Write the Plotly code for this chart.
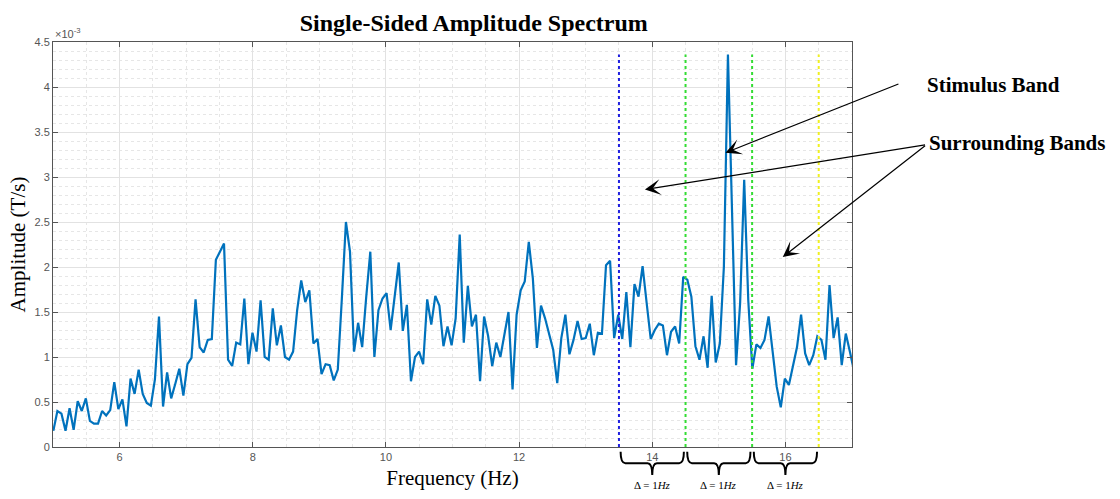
import numpy as np
import plotly.graph_objects as go

# FFT bin indices (frequency resolution 1/16.384 Hz)
bin_index = np.arange(82, 280)
freq = bin_index / 16.384

# amplitude in units of 1e-3 T/s
amp_e3 = [
    0.18, 0.40, 0.37, 0.18, 0.43, 0.19, 0.51, 0.40, 0.54, 0.29,
    0.26, 0.26, 0.40, 0.35, 0.41, 0.72, 0.42, 0.53, 0.23, 0.76,
    0.59, 0.86, 0.59, 0.49, 0.46, 0.75, 1.45, 0.45, 0.83, 0.54,
    0.70, 0.87, 0.57, 0.92, 0.99, 1.64, 1.11, 1.05, 1.19, 1.20,
    2.08, 2.17, 2.26, 0.97, 0.90, 1.16, 1.14, 1.65, 0.92, 1.27,
    1.06, 1.63, 1.00, 0.97, 1.54, 1.13, 1.35, 1.00, 0.97, 1.06,
    1.52, 1.85, 1.61, 1.74, 1.15, 1.20, 0.81, 0.92, 0.91, 0.74,
    0.86, 1.65, 2.50, 2.17, 1.06, 1.38, 1.11, 1.67, 2.17, 1.00,
    1.52, 1.65, 1.71, 1.30, 1.67, 2.05, 1.29, 1.58, 0.73, 1.00,
    1.06, 0.92, 1.64, 1.36, 1.68, 1.57, 1.12, 1.34, 1.13, 1.43,
    2.36, 1.16, 1.79, 1.34, 1.47, 0.73, 1.45, 1.23, 0.90, 1.16,
    1.00, 1.23, 1.50, 0.64, 1.47, 1.74, 1.84, 2.28, 1.87, 1.10,
    1.57, 1.43, 1.26, 1.08, 0.71, 1.21, 1.47, 1.03, 1.19, 1.40,
    1.20, 1.21, 1.37, 1.02, 1.27, 1.26, 2.02, 2.07, 1.21, 1.47,
    1.20, 1.72, 1.11, 1.81, 1.67, 2.01, 1.60, 1.20, 1.30, 1.37,
    1.35, 1.02, 1.28, 1.34, 1.15, 1.89, 1.86, 1.67, 1.12, 0.97,
    1.23, 0.88, 1.68, 0.94, 1.15, 2.00, 4.36, 2.78, 0.91, 1.60,
    2.97, 1.63, 0.87, 1.14, 1.10, 1.19, 1.45, 1.06, 0.67, 0.44,
    0.76, 0.69, 0.91, 1.11, 1.47, 1.04, 0.91, 1.02, 1.23, 1.19,
    0.97, 1.80, 1.21, 1.44, 0.91, 1.26, 1.06, 0.85,
]
amp = np.array(amp_e3) * 1e-3

band_edges = [13.5, 14.5, 15.5, 16.5]
edge_colors = ["#2020e0", "#33dd33", "#33dd33", "#f0f020"]
band_label = "Δ = 1<i>Hz</i>"

ytick_vals = [0, 0.5, 1, 1.5, 2, 2.5, 3, 3.5, 4, 4.5]
ytick_text = ["0", "0.5", "1", "1.5", "2", "2.5", "3", "3.5", "4", "4.5"]

fig = go.Figure()
fig.add_trace(go.Scatter(x=freq, y=amp, mode="lines",
                         line=dict(color="#0072BD", width=2.2),
                         showlegend=False, hoverinfo="x+y"))
top = float(np.max(amp))
for xe, c in zip(band_edges, edge_colors):
    fig.add_trace(go.Scatter(x=[xe, xe], y=[0, top], mode="lines",
                             line=dict(color=c, width=2, dash="dot"),
                             showlegend=False, hoverinfo="skip"))

# curly braces under the axis between band edges
y_top, y_mid, y_tip = -0.012, -0.040, -0.069
shapes = []
for x0, x1 in zip(band_edges[:-1], band_edges[1:]):
    e = 0.025
    r = 0.07
    xm = (x0 + x1) / 2
    a, b = x0 + e, x1 - e
    path = (f"M {a},{y_top} Q {a},{y_mid} {a + r},{y_mid} "
            f"L {xm - r},{y_mid} Q {xm},{y_mid} {xm},{y_tip} "
            f"Q {xm},{y_mid} {xm + r},{y_mid} "
            f"L {b - r},{y_mid} Q {b},{y_mid} {b},{y_top}")
    shapes.append(dict(type="path", xref="x", yref="paper", path=path,
                       line=dict(color="black", width=2)))

annotations = []
for x0, x1 in zip(band_edges[:-1], band_edges[1:]):
    annotations.append(dict(x=(x0 + x1) / 2, xref="x", y=-0.113, yref="paper",
                            text=band_label, showarrow=False,
                            font=dict(family="Liberation Serif", size=11, color="black")))

# exponent label
annotations.append(dict(x=0, xref="paper", y=1.0, yref="paper", xanchor="left",
                        yanchor="bottom", text="×10<sup>-3</sup>", showarrow=False,
                        font=dict(family="Liberation Sans", size=11, color="#555555")))

# text labels
annotations.append(dict(x=1.091, xref="paper", y=0.929, yref="paper", xanchor="left",
                        text="<b>Stimulus Band</b>", showarrow=False,
                        font=dict(family="Liberation Serif", size=21, color="black")))
annotations.append(dict(x=1.094, xref="paper", y=0.786, yref="paper", xanchor="left",
                        text="<b>Surrounding Bands</b>", showarrow=False,
                        font=dict(family="Liberation Serif", size=21, color="black")))

arrows = [
    ((15.10, 3.27e-3), (17.72, 4.04e-3)),
    ((13.89, 2.86e-3), (18.12, 3.36e-3)),
    ((15.96, 2.11e-3), (18.12, 3.36e-3)),
]
for (hx, hy), (tx, ty) in arrows:
    annotations.append(dict(x=hx, y=hy, xref="x", yref="y", ax=tx, ay=ty,
                            axref="x", ayref="y", text="", showarrow=True,
                            arrowhead=3, arrowsize=2.2, arrowwidth=1.2,
                            arrowcolor="black"))

axis_common = dict(showline=True, linecolor="#555555", linewidth=1, mirror="ticks",
                   ticks="inside", ticklen=5, tickcolor="#555555",
                   tickfont=dict(family="Liberation Sans", size=11, color="#555555"),
                   showgrid=True, gridcolor="#e2e2e2", gridwidth=1, zeroline=False)

fig.update_layout(
    width=1120, height=499,
    margin=dict(l=53, r=268, t=42, b=52),
    paper_bgcolor="white", plot_bgcolor="white",
    title=dict(text="<b>Single-Sided Amplitude Spectrum</b>", x=0.423, xanchor="center",
               y=0.954, yanchor="middle", xref="container",
               font=dict(family="Liberation Serif", size=24, color="black")),
    xaxis=dict(range=[5, 17], dtick=2, tick0=0, **axis_common,
               minor=dict(dtick=0.5, tick0=0, showgrid=True, gridcolor="#e6e6e6",
                          griddash="dot", ticks=""),
               title=dict(text="Frequency (Hz)", standoff=8,
                          font=dict(family="Liberation Serif", size=21, color="black"))),
    yaxis=dict(range=[0, 4.5e-3], tickvals=[v * 1e-3 for v in ytick_vals],
               ticktext=ytick_text, **axis_common,
               minor=dict(dtick=0.1e-3, tick0=0, showgrid=True, gridcolor="#e6e6e6",
                          griddash="dot", ticks=""),
               title=dict(text="Amplitude (T/s)", standoff=3,
                          font=dict(family="Liberation Serif", size=21, color="black"))),
    shapes=shapes, annotations=annotations,
)

fig.write_html("out.html")
